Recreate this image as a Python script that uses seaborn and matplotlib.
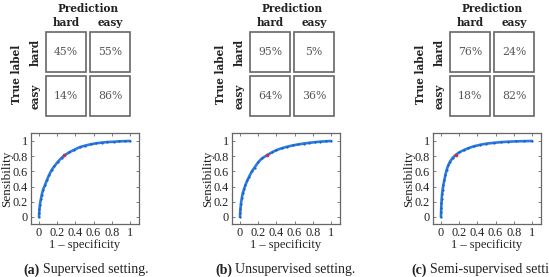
import numpy as np
import pandas as pd
import matplotlib
matplotlib.use("Agg")
import matplotlib.pyplot as plt
from matplotlib.colors import ListedColormap
from matplotlib.patches import Rectangle
import seaborn as sns

# ---------------- data ----------------
classes = ["hard", "easy"]
cm_a = [[45, 55], [14, 86]]
cm_b = [[95, 5], [64, 36]]
cm_c = [[76, 24], [18, 82]]

fpr_a = [0, 0.002, 0.005, 0.01, 0.02, 0.03, 0.045, 0.066, 0.085, 0.11, 0.14, 0.17, 0.21, 0.25,
         0.28, 0.33, 0.38, 0.45, 0.51, 0.57, 0.63, 0.69, 0.75, 0.82, 0.88, 0.94, 1.0]
tpr_a = [0, 0.05, 0.10, 0.16, 0.23, 0.29, 0.36, 0.42, 0.48, 0.55, 0.62, 0.67, 0.73, 0.78,
         0.81, 0.85, 0.88, 0.92, 0.94, 0.957, 0.97, 0.979, 0.986, 0.99, 0.995, 0.998, 1.0]

fpr_b = [0, 0.002, 0.005, 0.01, 0.02, 0.03, 0.045, 0.06, 0.08, 0.10, 0.13, 0.16, 0.20, 0.24,
         0.30, 0.35, 0.40, 0.46, 0.52, 0.58, 0.64, 0.70, 0.76, 0.82, 0.88, 0.94, 1.0]
tpr_b = [0, 0.05, 0.10, 0.17, 0.25, 0.31, 0.37, 0.42, 0.48, 0.53, 0.60, 0.65, 0.72, 0.77,
         0.815, 0.85, 0.88, 0.905, 0.925, 0.942, 0.955, 0.966, 0.976, 0.984, 0.991, 0.996, 1.0]

fpr_c = [0, 0.001, 0.003, 0.005, 0.008, 0.012, 0.018, 0.026, 0.036, 0.048, 0.062, 0.08, 0.10,
         0.13, 0.16, 0.20, 0.25, 0.30, 0.36, 0.43, 0.50, 0.58, 0.66, 0.74, 0.82, 0.91, 1.0]
tpr_c = [0, 0.06, 0.12, 0.18, 0.24, 0.30, 0.36, 0.42, 0.48, 0.55, 0.62, 0.68, 0.73,
         0.78, 0.815, 0.85, 0.88, 0.905, 0.93, 0.95, 0.965, 0.976, 0.985, 0.991, 0.995, 0.998, 1.0]

op_a = (0.28, 0.81)
op_b = (0.30, 0.815)
op_c = (0.16, 0.815)

tick_vals = [0, 0.2, 0.4, 0.6, 0.8, 1]
tick_labels = ["0", "0.2", "0.4", "0.6", "0.8", "1"]

cap_tags = ["(a)", "(b)", "(c)"]
cap_texts = ["Supervised setting.", "Unsupervised setting.", "Semi-supervised setting."]

# ---------------- figure ----------------
sns.set_theme(style="white")
plt.rcParams["font.family"] = ["Liberation Serif", "DejaVu Serif"]

W, H = 549, 277
fig = plt.figure(figsize=(W / 100, H / 100), dpi=100)


def rect(left, top, w, h):
    return [left / W, 1 - (top + h) / H, w / W, h / H]


def ftext(x, y, s, **kw):
    fig.text(x / W, 1 - y / H, s, **kw)


bold_font = dict(family=["DejaVu Serif"], fontweight="bold", fontsize=7.6, color="#222222")

cms = [cm_a, cm_b, cm_c]
cm_lefts = [44, 248, 448]
for cm, left in zip(cms, cm_lefts):
    ax = fig.add_axes(rect(left, 30, 88, 88))
    df = pd.DataFrame(cm, index=classes, columns=classes)
    annot = df.map(lambda v: f"{v}%")
    sns.heatmap(df, annot=annot, fmt="", cmap=ListedColormap(["white"]), cbar=False,
                ax=ax, annot_kws=dict(fontsize=7.8, color="#555555",
                                      family=["DejaVu Serif"]))
    ins = 0.05
    for i in range(2):
        for j in range(2):
            ax.add_patch(Rectangle((j + ins, i + ins), 1 - 2 * ins, 1 - 2 * ins,
                                   fill=False, edgecolor="#666666", linewidth=1.2))
    ax.set_xticks([])
    ax.set_yticks([])
    ax.set_xlabel("")
    ax.set_ylabel("")
    for s in ax.spines.values():
        s.set_visible(False)
    cx = left + 44
    ftext(cx, 8, "Prediction", ha="center", va="center", **bold_font)
    ftext(left + 22, 22, classes[0], ha="center", va="center", **bold_font)
    ftext(left + 66, 22, classes[1], ha="center", va="center", **bold_font)
    ftext(left - 9, 52, classes[0], ha="center", va="center", rotation=90, **bold_font)
    ftext(left - 9, 96, classes[1], ha="center", va="center", rotation=90, **bold_font)
    ftext(left - 27, 74, "True label", ha="center", va="center", rotation=90, **bold_font)

# ---------------- ROC curves ----------------
rocs = [(fpr_a, tpr_a, op_a), (fpr_b, tpr_b, op_b), (fpr_c, tpr_c, op_c)]
roc_lefts = [30.8, 231.8, 432.8]
for (fx, ty, op), left in zip(rocs, roc_lefts):
    ax = fig.add_axes(rect(left, 133.4, 108.3, 90.4))
    sns.lineplot(x=fx, y=ty, ax=ax, color="#2a7be0", linewidth=1.9, marker="o",
                 markersize=1.6, markeredgewidth=0, markerfacecolor="#1a5fc0",
                 estimator=None, sort=False)
    sns.scatterplot(x=[op[0]], y=[op[1]], ax=ax, color="#d42a4a", s=7, linewidth=0, zorder=5)
    ax.set_xlim(-0.09, 1.1)
    ax.set_ylim(-0.09, 1.1)
    ax.set_xticks(tick_vals)
    ax.set_xticklabels(tick_labels)
    ax.set_yticks(tick_vals)
    ax.set_yticklabels(tick_labels)
    ax.tick_params(direction="in", length=2.5, width=0.6, color="#666666",
                   top=True, right=True, bottom=True, left=True,
                   labelsize=8.8, pad=2, labelcolor="#222222")
    for s in ax.spines.values():
        s.set_visible(True)
        s.set_color("#666666")
        s.set_linewidth(0.9)
    ax.set_xlabel("1 – specificity", fontsize=9, labelpad=0, color="#222222")
    ax.set_ylabel("Sensibility", fontsize=9.5, labelpad=0, color="#222222")
    ax.grid(False)

# ---------------- captions ----------------
cap_x = [40, 232, 427]
for tag, txt, x in zip(cap_tags, cap_texts, cap_x):
    ftext(x, 270, tag, ha="right", va="center", fontsize=10, fontweight="bold", color="#222222")
    ftext(x + 3, 270, txt, ha="left", va="center", fontsize=10, color="#222222")

fig.savefig("out.png", dpi=100)
